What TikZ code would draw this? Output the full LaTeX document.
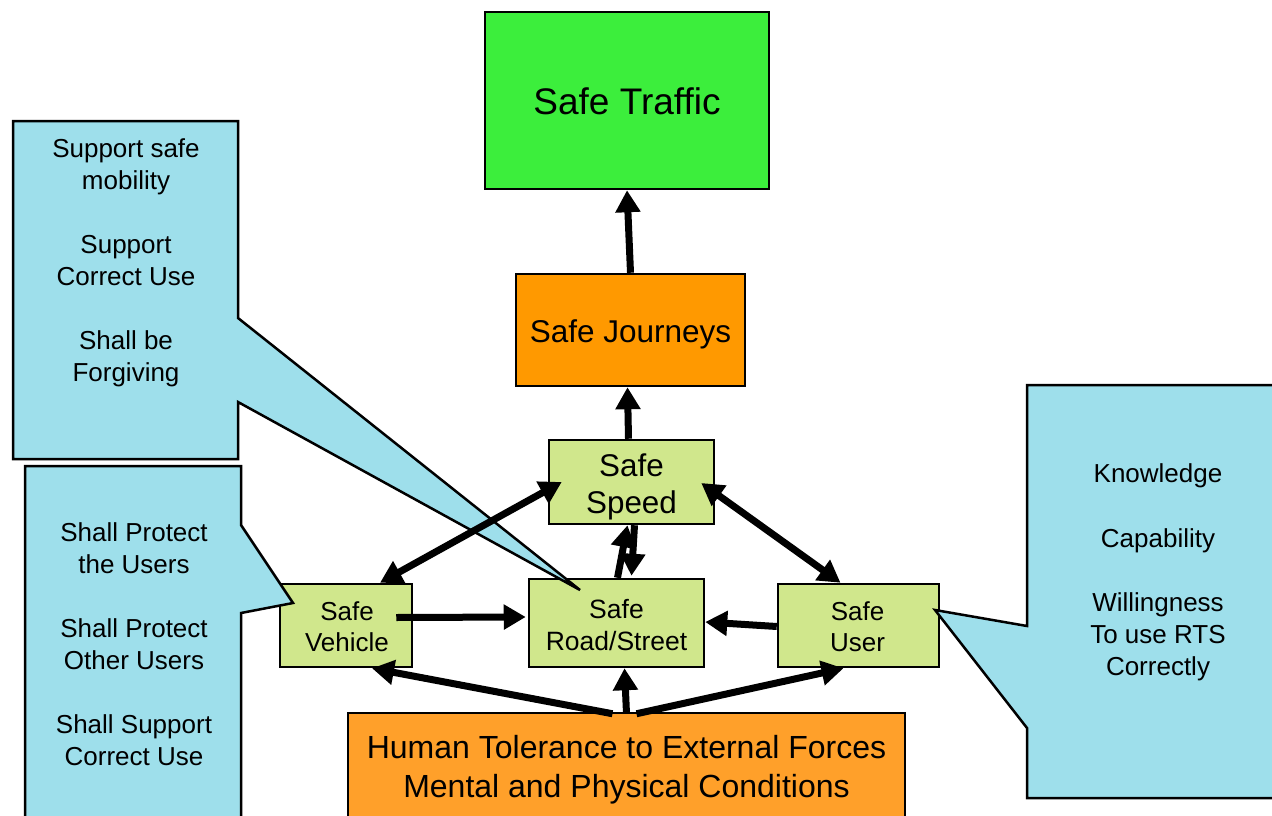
\documentclass[tikz,border=0pt]{standalone}
\usepackage{fontspec}
\setmainfont{Liberation Sans}
\usetikzlibrary{arrows.meta,calc}
\definecolor{callcyan}{HTML}{9EDFEB}
\definecolor{lgreen}{HTML}{D0E78C}
\definecolor{bgreen}{HTML}{3CEE3C}
\definecolor{orng}{HTML}{FF9900}
\definecolor{orng2}{HTML}{FFA02A}
\begin{document}
\begin{tikzpicture}[x=1pt,y=-1pt,
  box/.style={draw=black,line width=2.5pt,inner sep=0pt},
  btext/.style={align=center,inner sep=0pt},
  callout/.style={draw=black,line width=2.5pt,fill=callcyan,line join=miter},
  ctext/.style={align=center,font=\fontsize{26}{32}\selectfont},
  arr/.style={line width=7pt,-{Triangle[length=22pt,width=24pt]}},
  darr/.style={line width=7pt,{Triangle[length=22pt,width=24pt]}-{Triangle[length=22pt,width=24pt]}}]
\useasboundingbox (0,0) rectangle (1272,816);
\clip (0,0) rectangle (1272,816);
\fill[white] (0,0) rectangle (1272,816);

% boxes
\node[box,fill=bgreen,minimum width=284pt,minimum height=177pt] (traf) at (627,100.5) {};
\node[btext,font=\fontsize{37}{44}\selectfont] (trafT) at ($(traf.center)+(0,1)$) {Safe Traffic};
\node[box,fill=orng,minimum width=229pt,minimum height=112pt] (jour) at (630.5,330) {};
\node[btext,font=\fontsize{31.5}{38}\selectfont] (jourT) at ($(jour.center)+(0,4)$) {Safe Journeys};
\node[box,fill=lgreen,minimum width=165pt,minimum height=84pt] (speed) at (631.5,482) {};
\node[btext,font=\fontsize{31.4}{37}\selectfont] (speedT) at ($(speed.center)+(0,4.5)$) {Safe\\Speed};
\node[box,fill=lgreen,minimum width=175pt,minimum height=88pt] (road) at (616.5,623) {};
\node[btext,font=\fontsize{26.5}{32}\selectfont] (roadT) at ($(road.center)+(0,2)$) {Safe\\Road/Street};
\node[box,fill=lgreen,minimum width=132pt,minimum height=83pt] (veh) at (346,625.5) {};
\node[btext,font=\fontsize{26}{31}\selectfont] (vehT) at ($(veh.center)+(1,1)$) {Safe\\Vehicle};
\node[box,fill=lgreen,minimum width=161pt,minimum height=83pt] (user) at (858.5,625.5) {};
\node[btext,font=\fontsize{26}{31}\selectfont] (userT) at ($(user.center)+(-1,1)$) {Safe\\User};
\node[box,fill=orng2,minimum width=557pt,minimum height=106pt] (human) at (626.5,766) {};
\node[btext,font=\fontsize{32}{39}\selectfont] (humanT) at ($(human.center)+(0,4)$) {Human Tolerance to External Forces\\Mental and Physical Conditions};

% callouts
\draw[callout] (13,121) -- (238,121) -- (238,318) -- (580,590) -- (238,402) -- (238,459) -- (13,459) -- cycle;
\node[ctext] (c1) at (126,263) {Support safe\\mobility\\[32pt]Support\\Correct Use\\[32pt]Shall be\\Forgiving};
\draw[callout] (25,466) -- (241,466) -- (241,525) -- (293,603) -- (241,613) -- (241,830) -- (25,830) -- cycle;
\node[ctext] (c2) at (134,644) {Shall Protect\\the Users\\[32pt]Shall Protect\\Other Users\\[32pt]Shall Support\\Correct Use};
\draw[callout] (1027,385) -- (1290,385) -- (1290,798) -- (1027,798) -- (1027,728) -- (935,610) -- (1027,626) -- cycle;
\node[ctext] (c3) at (1158,572) {Knowledge\\[33pt]Capability\\[32pt]Willingness\\To use RTS\\Correctly};

% arrows
\draw[arr] (jour.north) -- (traf.south);
\draw[arr] ($(speed.north)+(-3,0)$) -- ($(jour.south)+(-3,0)$);
\draw[darr] ($(speed.west)+(14,0)$) -- ($(veh.north)+(34,0)$);
\draw[darr] ($(speed.east)+(-14,1)$) -- ($(user.north)+(-18,0)$);
\draw[arr] ($(road.north)+(1,0)$) -- ($(speed.south)+(-4,0)$);
\draw[arr] ($(speed.south)+(3,0)$) -- ($(road.north)+(15,-2)$);
\draw[arr] ($(veh.east)+(-17,-8)$) -- ($(road.west)+(-2,-6)$);
\draw[arr] ($(user.west)+(0,1)$) -- ($(road.east)+(0,-1)$);
\draw[arr] ($(human.north)+(-14,2)$) -- ($(veh.south)+(26,0)$);
\draw[arr] ($(human.north)+(0,2)$) -- ($(road.south)+(8,0)$);
\draw[arr] ($(human.north)+(10,2)$) -- ($(user.south)+(-15,0)$);
\end{tikzpicture}
\end{document}
